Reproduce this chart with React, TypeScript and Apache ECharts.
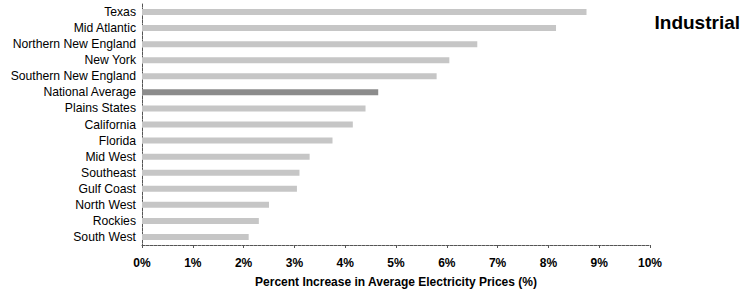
import React, { useEffect, useRef } from "react";
import * as echarts from "echarts";

const regions = [
  "Texas",
  "Mid Atlantic",
  "Northern New England",
  "New York",
  "Southern New England",
  "National Average",
  "Plains States",
  "California",
  "Florida",
  "Mid West",
  "Southeast",
  "Gulf Coast",
  "North West",
  "Rockies",
  "South West",
];
const increases = [8.75, 8.15, 6.6, 6.05, 5.8, 4.65, 4.4, 4.15, 3.75, 3.3, 3.1, 3.05, 2.5, 2.3, 2.1];
const highlight = "National Average";

export default function App() {
  const ref = useRef<HTMLDivElement>(null);
  useEffect(() => {
    if (!ref.current) return;
    const chart = echarts.init(ref.current, null, { renderer: "svg" });
    chart.setOption({
      animation: false,
      backgroundColor: "#ffffff",
      title: {
        text: "Industrial",
        right: 5,
        top: 8,
        textStyle: { fontFamily: "Liberation Sans, Arial", fontSize: 19, fontWeight: "bold", color: "#000" },
      },
      grid: { left: 142, right: 100, top: 4, bottom: 50, containLabel: false },
      xAxis: {
        type: "value",
        min: 0,
        max: 10,
        interval: 1,
        name: "Percent Increase in Average Electricity Prices (%)",
        nameLocation: "middle",
        nameGap: 31,
        nameTextStyle: { fontFamily: "Liberation Sans, Arial", fontSize: 12, fontWeight: "bold", color: "#000" },
        axisLine: { show: true, lineStyle: { color: "#555", width: 1, type: [3, 1] } },
        axisTick: { show: true, length: 3, lineStyle: { color: "#555" } },
        splitLine: { show: false },
        axisLabel: {
          formatter: (v: number) => `${v}%`,
          margin: 12,
          fontFamily: "Liberation Sans, Arial",
          fontSize: 12,
          fontWeight: "bold",
          color: "#000",
        },
      },
      yAxis: {
        type: "category",
        inverse: true,
        data: regions,
        axisLine: { show: true, lineStyle: { color: "#555", width: 1, type: [3, 1] } },
        axisTick: { show: false },
        axisLabel: { interval: 0, margin: 6, fontFamily: "Liberation Sans, Arial", fontSize: 12.2, color: "#000" },
      },
      series: [
        {
          type: "bar",
          barWidth: 6,
          data: regions.map((r, i) => ({
            value: increases[i],
            itemStyle: { color: r === highlight ? "#8c8c8c" : "#c6c6c6" },
          })),
        },
      ],
    });
    return () => chart.dispose();
  }, []);
  return <div ref={ref} style={{ width: 750, height: 295, position: "absolute", left: 0, top: 0 }} />;
}
